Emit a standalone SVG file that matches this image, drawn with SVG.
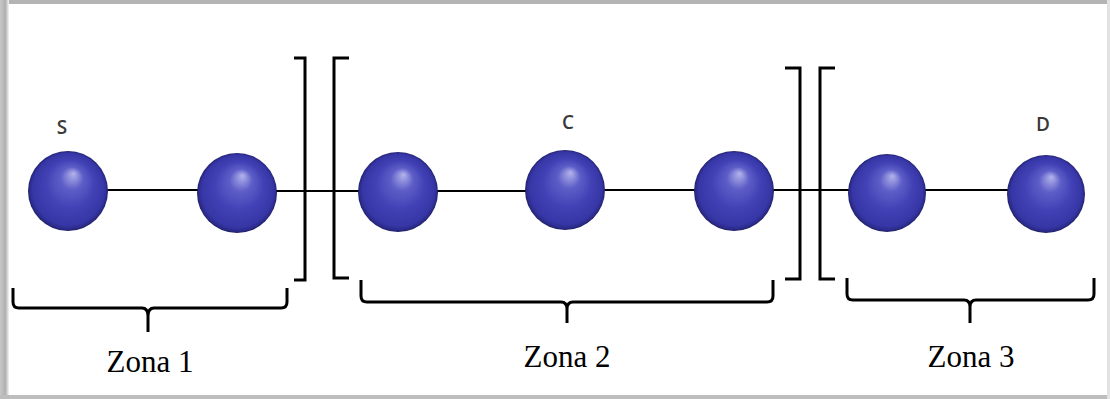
<svg xmlns="http://www.w3.org/2000/svg" width="1110" height="399" viewBox="0 0 1110 399">
  <defs>
    <radialGradient id="ball" cx="0.5" cy="0.5" r="0.5" fx="0.57" fy="0.28">
      <stop offset="0" stop-color="#b4b4ec"/>
      <stop offset="0.28" stop-color="#5e5ec8"/>
      <stop offset="0.6" stop-color="#4242b6"/>
      <stop offset="0.9" stop-color="#3636a6"/>
      <stop offset="0.97" stop-color="#2a2a88"/>
      <stop offset="1" stop-color="#1e1e60"/>
    </radialGradient>
    <linearGradient id="leftEdge" x1="0" y1="0" x2="1" y2="0">
      <stop offset="0" stop-color="#c8c8c8"/>
      <stop offset="0.6" stop-color="#b0b0b0"/>
      <stop offset="1" stop-color="#f4f4f4"/>
    </linearGradient>
  </defs>
  <style>
    .ball { fill: url(#ball); }
    .edge { stroke: #000; stroke-width: 2; fill: none; }
    .bracket { stroke: #000; stroke-width: 3; fill: none; stroke-linejoin: miter; }
    .brace { stroke: #000; stroke-width: 3; fill: none; stroke-linejoin: round; }
    .lbl { font-family: "Open Sans", "DejaVu Sans", sans-serif; font-size: 19px; font-weight: 600; fill: #3a3a3a; text-anchor: middle; }
    .zone { font-family: "Liberation Serif", "Times New Roman", serif; font-size: 31px; fill: #000; text-anchor: middle; }
  </style>

  <rect x="0" y="0" width="1110" height="399" fill="#fff"/>
  <!-- frame -->
  <rect x="0" y="0" width="1110" height="4" fill="#b4b4b4"/>
  <rect x="0" y="0" width="9" height="399" fill="url(#leftEdge)"/>
  <rect x="0" y="395" width="1110" height="4" fill="#bdbdbd"/>
  <rect x="1107" y="0" width="3" height="399" fill="#e2e2e2"/>

  <g id="connectors">
    <line class="edge" x1="105" y1="190" x2="200" y2="190"/>
    <line class="edge" x1="274" y1="191" x2="360" y2="191"/>
    <line class="edge" x1="435" y1="191" x2="528" y2="191"/>
    <line class="edge" x1="602" y1="190" x2="697" y2="190"/>
    <line class="edge" x1="771" y1="190" x2="850" y2="190"/>
    <line class="edge" x1="924" y1="190" x2="1009" y2="190"/>
  </g>

  <g id="brackets">
    <path class="bracket" d="M294,58 H305 V280 H294"/>
    <path class="bracket" d="M349,58 H334 V278 H349"/>
    <path class="bracket" d="M785,68 H800 V279 H785"/>
    <path class="bracket" d="M835,68 H820 V279 H835"/>
  </g>

  <g id="braces">
    <path class="brace" d="M13,288 V302 Q13,308 19,308 H142 Q148,308 148,316 V332 M148,316 Q148,308 154,308 H281 Q287,308 287,302 V288"/>
    <path class="brace" d="M361,280 V296 Q361,302 367,302 H561 Q567,302 567,309 V323 M567,309 Q567,302 573,302 H767 Q773,302 773,296 V280"/>
    <path class="brace" d="M847,278 V294 Q847,300 853,300 H964 Q970,300 970,307 V323 M970,307 Q970,300 976,300 H1088 Q1094,300 1094,294 V278"/>
  </g>

  <g id="node1"><circle class="ball" cx="68" cy="191" r="40"/><text class="lbl" x="62" y="134">S</text></g>
  <g id="node2"><circle class="ball" cx="237" cy="193" r="40"/></g>
  <g id="node3"><circle class="ball" cx="398" cy="192" r="40"/></g>
  <g id="node4"><circle class="ball" cx="565" cy="190" r="40"/><text class="lbl" x="568" y="129">C</text></g>
  <g id="node5"><circle class="ball" cx="734" cy="191" r="40"/></g>
  <g id="node6"><circle class="ball" cx="887" cy="193" r="39"/></g>
  <g id="node7"><circle class="ball" cx="1046" cy="194" r="39"/><text class="lbl" x="1043" y="131">D</text></g>

  <g id="zones">
    <text class="zone" x="150" y="372">Zona 1</text>
    <text class="zone" x="567" y="367">Zona 2</text>
    <text class="zone" x="971" y="367">Zona 3</text>
  </g>
</svg>
